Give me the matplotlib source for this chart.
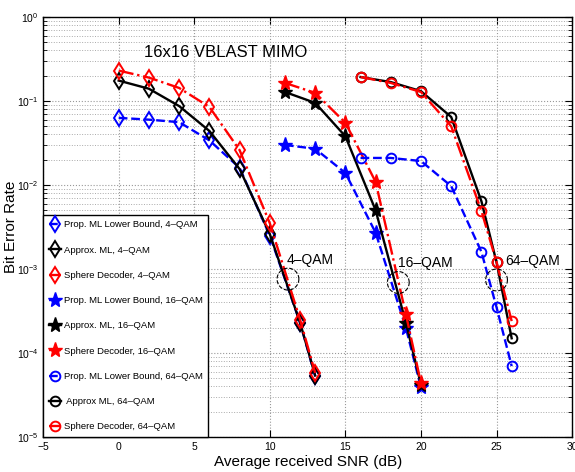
import numpy as np
import matplotlib
matplotlib.use("Agg")
import matplotlib.pyplot as plt
from matplotlib.ticker import LogLocator, NullFormatter, MultipleLocator

plt.rcParams['font.family'] = ['Liberation Sans', 'DejaVu Sans']
plt.rcParams['mathtext.fontset'] = 'custom'
plt.rcParams['mathtext.rm'] = 'Liberation Sans'

# ---- data ----
snr_4 = [0, 2, 4, 6, 8, 10, 12, 13]
lb_4 = [0.063, 0.060, 0.056, 0.034, 0.016, 0.0025, 2.3e-4, 5.3e-5]
aml_4 = [0.175, 0.14, 0.087, 0.044, 0.0155, 0.0026, 2.3e-4, 5.4e-5]
sd_4 = [0.23, 0.19, 0.143, 0.085, 0.026, 0.0035, 2.5e-4, 5.8e-5]

snr_16 = [11, 13, 15, 17, 19, 20]
lb_16 = [0.030, 0.027, 0.0139, 0.0027, 2.0e-4, 3.9e-5]
aml_16 = [0.128, 0.095, 0.038, 0.005, 2.3e-4, 4.2e-5]
sd_16 = [0.164, 0.125, 0.055, 0.0109, 2.9e-4, 4.4e-5]

snr_64 = [16, 18, 20, 22, 24, 25, 26]
lb_64 = [0.021, 0.021, 0.0193, 0.0097, 0.0016, 3.5e-4, 7.0e-5]
aml_64 = [0.193, 0.168, 0.131, 0.0645, 0.0064, 0.0012, 1.5e-4]
sd_64 = [0.193, 0.164, 0.128, 0.050, 0.0049, 0.00121, 2.4e-4]

labels = [
    'Prop. ML Lower Bound, 4\u2013QAM', 'Approx. ML, 4\u2013QAM', 'Sphere Decoder, 4\u2013QAM',
    'Prop. ML Lower Bound, 16\u2013QAM', 'Approx. ML, 16\u2013QAM', 'Sphere Decoder, 16\u2013QAM',
    'Prop. ML Lower Bound, 64\u2013QAM', ' Approx ML, 64\u2013QAM', 'Sphere Decoder, 64\u2013QAM',
]

ann_text = ['4\u2013QAM', '16\u2013QAM', '64\u2013QAM']
ann_ell_x = [11.2, 18.5, 25.0]
ann_ell_logy = [-3.12, -3.16, -3.13]
ann_txt_x = [11.1, 18.5, 25.6]
ann_txt_logy = [-2.89, -2.93, -2.91]

fig = plt.figure(figsize=(5.75, 4.72), dpi=100)
ax = fig.add_axes([0.075, 0.074, 0.92, 0.89])

lw = 1.7
ms_d = 8
ms_s = 11
ms_o = 7

ax.semilogy(snr_4, lb_4, '--', color='blue', marker='d', mfc='none', mec='blue', ms=ms_d, lw=lw, mew=1.4, label=labels[0])
ax.semilogy(snr_4, aml_4, '-', color='black', marker='d', mfc='none', mec='black', ms=ms_d, lw=lw, mew=1.4, label=labels[1])
ax.semilogy(snr_4, sd_4, '-.', color='red', marker='d', mfc='none', mec='red', ms=ms_d, lw=lw, mew=1.4, label=labels[2])

ax.semilogy(snr_16, lb_16, '--', color='blue', marker='*', mfc='blue', mec='blue', ms=ms_s, lw=lw, label=labels[3])
ax.semilogy(snr_16, aml_16, '-', color='black', marker='*', mfc='black', mec='black', ms=ms_s, lw=lw, label=labels[4])
ax.semilogy(snr_16, sd_16, '-.', color='red', marker='*', mfc='red', mec='red', ms=ms_s, lw=lw, label=labels[5])

ax.semilogy(snr_64, lb_64, '--', color='blue', marker='o', mfc='none', mec='blue', ms=ms_o, lw=lw, mew=1.4, label=labels[6])
ax.semilogy(snr_64, aml_64, '-', color='black', marker='o', mfc='none', mec='black', ms=ms_o, lw=lw, mew=1.4, label=labels[7])
ax.semilogy(snr_64, sd_64, '-.', color='red', marker='o', mfc='none', mec='red', ms=ms_o, lw=lw, mew=1.4, label=labels[8])

# annotations (dashed ellipses + labels)
t = np.linspace(0, 2 * np.pi, 100)
for tx, ex, ey, lx, ly in zip(ann_text, ann_ell_x, ann_ell_logy, ann_txt_x, ann_txt_logy):
    ax.plot(ex + 0.72 * np.cos(t), 10 ** (ey + 0.13 * np.sin(t)), '--', color='black', lw=0.8)
    ax.text(lx, 10 ** ly, tx, fontsize=10, ha='left', va='center')

ax.text(1.7, 10 ** -0.42, '16x16 VBLAST MIMO', fontsize=12, ha='left', va='center')

ax.set_xlim(-5, 30)
ax.set_ylim(1e-5, 1)
ax.xaxis.set_major_locator(MultipleLocator(5))
ax.yaxis.set_major_locator(LogLocator(base=10, numticks=10))
ax.yaxis.set_minor_locator(LogLocator(base=10, subs=np.arange(2, 10), numticks=10))
ax.yaxis.set_minor_formatter(NullFormatter())
ax.grid(True, which='major', axis='both', linestyle=':', color='#999999', lw=0.8)
ax.grid(True, which='minor', axis='y', linestyle=':', color='#aaaaaa', lw=0.7)
ax.tick_params(which='both', direction='in', top=True, right=True, labelsize=7.5)
ax.tick_params(which='major', length=5)
ax.tick_params(which='minor', length=3)
for s in ax.spines.values():
    s.set_linewidth(1.0)

ax.set_xlabel('Average received SNR (dB)', fontsize=11, labelpad=2)
ax.set_ylabel('Bit Error Rate', fontsize=11)
ax.yaxis.set_label_coords(-0.048, 0.5)

leg = ax.legend(loc='lower left', fontsize=6.8, handlelength=1.3, handletextpad=0.3,
                labelspacing=1.72, borderpad=0.6, fancybox=False, framealpha=1,
                edgecolor='black', borderaxespad=0.0)
leg.get_frame().set_linewidth(1.0)

fig.savefig('out.png', dpi=100)
